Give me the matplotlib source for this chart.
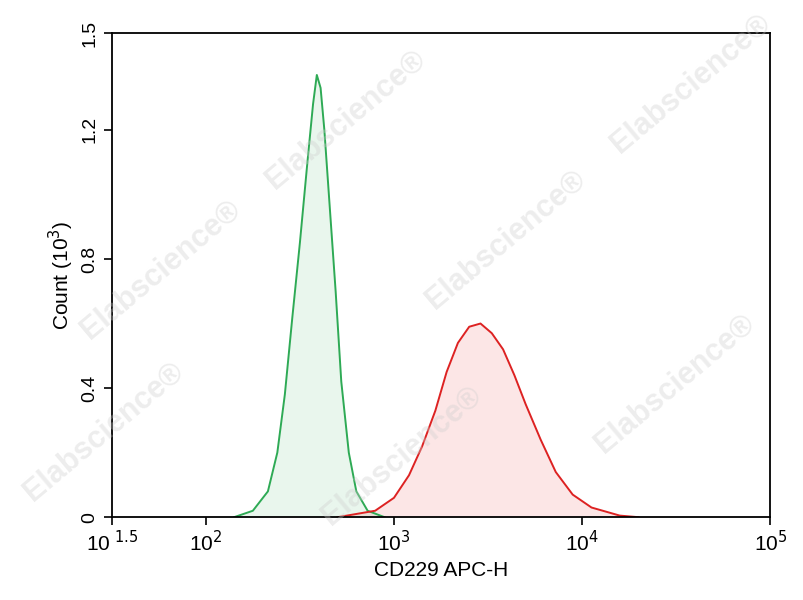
import matplotlib
matplotlib.use("Agg")
import matplotlib.pyplot as plt
import numpy as np

plt.rcParams['font.family'] = ['Liberation Sans', 'DejaVu Sans']

# pixel-read curves (x in log10 units, y in thousands)
green_logx = [2.15, 2.25, 2.33, 2.38, 2.42, 2.46, 2.50, 2.54, 2.57, 2.59, 2.61, 2.63, 2.66, 2.69, 2.72, 2.76, 2.80, 2.86, 2.95]
green_y    = [0.00, 0.02, 0.08, 0.20, 0.38, 0.62, 0.85, 1.10, 1.28, 1.37, 1.33, 1.20, 0.95, 0.70, 0.42, 0.20, 0.08, 0.02, 0.00]
red_logx = [2.70, 2.90, 3.00, 3.08, 3.15, 3.22, 3.28, 3.34, 3.40, 3.46, 3.52, 3.58, 3.64, 3.70, 3.78, 3.86, 3.95, 4.05, 4.20, 4.30]
red_y    = [0.00, 0.02, 0.06, 0.13, 0.22, 0.33, 0.45, 0.54, 0.59, 0.60, 0.57, 0.52, 0.44, 0.35, 0.24, 0.14, 0.07, 0.03, 0.005, 0.00]
xtick_exps = [1.5, 2, 3, 4, 5]
xtick_labels = [r'10$^{\ 1.5}$', r'10$^{2}$', r'10$^{3}$', r'10$^{4}$', r'10$^{5}$']
yticks = [0, 0.4, 0.8, 1.2, 1.5]
ytick_labels = ['0', '0.4', '0.8', '1.2', '1.5']

fig = plt.figure(figsize=(8.04, 6.0), dpi=100)
ax = fig.add_axes([0.139, 0.138, 0.819, 0.807])
gx = 10 ** np.array(green_logx)
rx = 10 ** np.array(red_logx)
ax.fill_between(gx, green_y, color='#2eaa55', alpha=0.1, lw=0)
ax.plot(gx, green_y, color='#2eaa55', lw=1.4)
ax.fill_between(rx, red_y, color='#ee3333', alpha=0.12, lw=0)
ax.plot(rx, red_y, color='#dd2222', lw=1.4)
ax.set_xscale('log')
ax.set_xlim(10**1.5, 10**5)
ax.set_ylim(0, 1.5)
ax.set_xticks([10**e for e in xtick_exps])
ax.set_xticklabels(xtick_labels, fontsize=15)
ax.xaxis.set_minor_locator(matplotlib.ticker.NullLocator())
ax.set_yticks(yticks)
ax.set_yticklabels(ytick_labels, fontsize=14, rotation=90, va='center')
ax.tick_params(length=6, width=1.2)
ax.set_xlabel('CD229 APC-H', fontsize=15)
ax.set_ylabel(r'Count (10$^3$)', fontsize=15)
for s in ax.spines.values():
    s.set_linewidth(1.3)

for (x, y) in [(0.43, 0.8), (0.86, 0.86), (0.2, 0.55), (0.63, 0.6), (0.84, 0.36), (0.5, 0.24), (0.13, 0.28)]:
    fig.text(x, y, 'Elabscience®', rotation=40, fontsize=22, color='#cccccc', alpha=0.35,
             ha='center', va='center', fontweight='bold')

fig.savefig('out.png', dpi=100)
